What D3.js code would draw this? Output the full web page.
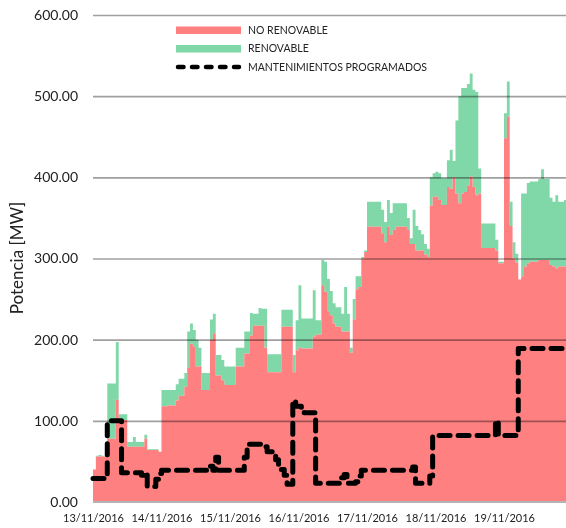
<!DOCTYPE html>
<html>
<head>
<meta charset="utf-8">
<script src="https://cdn.jsdelivr.net/npm/d3@7"></script>
<style>
  body { margin: 0; background: #fff; }
  svg { display: block; }
  svg text { font-family: Lato, "Open Sans", sans-serif; }
</style>
</head>
<body>
<div id="chart"></div>
<script>
// etiquetas de los dias (una por cada 24 h)
var dayLabels = ["13/11/2016", "14/11/2016", "15/11/2016", "16/11/2016", "17/11/2016", "18/11/2016", "19/11/2016"];
var yTicks = [0, 100, 200, 300, 400, 500, 600];
var legendLabels = ["NO RENOVABLE", "RENOVABLE", "MANTENIMIENTOS PROGRAMADOS"];

// potencia horaria [MW], 24 valores por dia
var noRenovable = [
  40,56,56,56,56,78,78,78,126,101,101,101,68,68,68,68,68,68,78,64,64,64,64,62,
  118,118,119,119,119,125,131,131,142,165,195,191,167,167,138,138,138,200,208,156,156,150,144,144,
  144,144,167,167,167,183,183,205,217,217,217,217,190,160,160,160,160,160,216,216,216,216,160,187,
  190,189,189,189,189,204,206,206,267,259,235,230,220,216,216,210,210,210,184,225,262,265,300,308,
  339,339,339,339,339,331,320,339,329,335,339,339,339,339,335,318,318,310,310,310,305,302,365,376,
  376,372,366,366,388,386,400,380,368,380,382,390,401,388,378,380,313,313,313,313,313,310,294,294,
  448,475,340,300,295,274,278,290,294,296,296,296,298,298,298,298,292,290,288,290,290,290,290,290
];
var renovable = [
  0,1,2,1,1,68,68,68,71,7,7,7,6,6,12,6,6,6,5,1,1,1,1,0,
  20,20,19,19,19,20,21,21,17,45,25,21,33,23,21,21,21,25,24,25,25,25,23,23,
  23,23,23,23,23,27,27,28,15,15,22,21,48,22,22,22,22,22,21,21,21,21,21,37,
  77,37,37,37,37,57,18,18,31,37,40,30,25,24,24,22,55,22,6,25,16,13,2,2,
  31,31,31,31,31,29,25,33,27,33,29,29,29,29,15,7,42,30,25,20,13,10,35,29,
  31,33,33,33,33,48,20,90,132,130,128,125,127,120,127,31,30,30,30,30,30,13,2,2,
  31,43,30,20,11,0,102,90,99,99,99,99,100,112,100,100,83,80,90,80,80,82,82,82
];
var mantenimientos = [
  29,29,29,29,29,100,100,100,100,100,36,36,36,36,36,36,36,33,36,19,19,19,28,35,
  39,39,39,39,39,39,39,39,39,39,39,39,39,39,39,39,44,44,39,55,39,39,39,39,
  39,39,39,39,39,55,71,71,71,71,71,71,68,62,62,60,52,45,40,33,22,22,125,118,
  118,115,110,110,110,110,23,23,23,23,23,23,23,23,23,30,34,23,23,23,25,32,39,39,
  39,39,39,39,39,39,39,39,39,39,39,39,39,39,39,39,43,23,23,23,23,23,32,82,
  82,82,82,82,82,82,82,82,82,82,82,82,82,82,82,82,82,82,82,82,82,100,82,82,
  82,82,82,82,82,189,189,189,189,189,189,189,189,189,189,189,189,189,189,189,189,189,189,189,208,208,208,208
];

var W = 566, H = 528;
var mLeft = 93, mTop = 15, mBottom = 502;
var hourW = 68.5 / 24;

var svg = d3.select("#chart").append("svg")
    .attr("width", W)
    .attr("height", H);

var x = d3.scaleLinear().domain([0, 168]).range([mLeft, mLeft + 168 * hourW]);
var y = d3.scaleLinear().domain([0, 600]).range([mBottom, mTop]);

var rows = noRenovable.map(function(v, i) {
  return { h: i, nr: v, tot: v + renovable[i], m: mantenimientos[i] };
});
var last = rows[rows.length - 1];
rows.push({ h: 168, nr: last.nr, tot: last.tot, m: last.m });

var plot = svg.append("g");

// areas apiladas
plot.append("path")
    .datum(rows)
    .attr("fill", "#80D8A8")
    .attr("d", d3.area().curve(d3.curveStepAfter)
        .x(function(d) { return x(d.h); })
        .y0(function(d) { return y(d.nr); })
        .y1(function(d) { return y(d.tot); }));

plot.append("path")
    .datum(rows)
    .attr("fill", "#FF8080")
    .attr("d", d3.area().curve(d3.curveStepAfter)
        .x(function(d) { return x(d.h); })
        .y0(y(0))
        .y1(function(d) { return y(d.nr); }));

// rejilla
var grid = svg.append("g")
    .attr("transform", "translate(" + mLeft + ",0)")
    .call(d3.axisLeft(y).tickValues(yTicks.slice(1)).tickSize(-(W - mLeft)).tickFormat(""));
grid.select(".domain").remove();
grid.selectAll("line")
    .attr("stroke", "#a0a0a0")
    .attr("stroke-width", 1.6)
    .style("mix-blend-mode", "multiply");

svg.append("line")
    .attr("x1", mLeft).attr("x2", W)
    .attr("y1", y(0)).attr("y2", y(0))
    .attr("stroke", "#b4b4b4")
    .attr("stroke-width", 2);

// mantenimientos programados
svg.append("path")
    .datum(rows)
    .attr("fill", "none")
    .attr("stroke", "#000")
    .attr("stroke-width", 5)
    .attr("stroke-linecap", "round")
    .attr("stroke-linejoin", "round")
    .attr("stroke-dasharray", "11,8")
    .attr("d", d3.line().curve(d3.curveStepAfter)
        .x(function(d) { return x(d.h); })
        .y(function(d) { return y(d.m); }));

// ejes
var yAxis = svg.append("g")
    .attr("transform", "translate(" + mLeft + ",0)")
    .call(d3.axisLeft(y).tickValues(yTicks).tickFormat(d3.format(".2f")).tickSize(0).tickPadding(15));
yAxis.select(".domain").remove();
yAxis.selectAll("text")
    .attr("fill", "#222")
    .style("font-size", "14px");

var xAxis = svg.append("g")
    .attr("transform", "translate(0," + mBottom + ")")
    .call(d3.axisBottom(x).tickValues(d3.range(0, 168, 24))
        .tickFormat(function(d, i) { return dayLabels[i]; })
        .tickSize(0).tickPadding(12));
xAxis.select(".domain").remove();
xAxis.selectAll("text")
    .attr("fill", "#222")
    .style("font-size", "11px");

svg.append("text")
    .attr("transform", "translate(23,258) rotate(-90)")
    .attr("text-anchor", "middle")
    .attr("fill", "#222")
    .style("font-size", "17px")
    .text("Potencia [MW]");

// leyenda
var legend = svg.append("g").attr("transform", "translate(176,0)");
legend.append("rect").attr("x", 0).attr("y", 26.5).attr("width", 65).attr("height", 7.5).attr("fill", "#FF8080");
legend.append("rect").attr("x", 0).attr("y", 45).attr("width", 65).attr("height", 7.5).attr("fill", "#80D8A8");
legend.append("line")
    .attr("x1", 2).attr("x2", 63).attr("y1", 67).attr("y2", 67)
    .attr("stroke", "#000").attr("stroke-width", 4.5)
    .attr("stroke-linecap", "round")
    .attr("stroke-dasharray", "5.5,8.5");
legend.selectAll("text.lg")
    .data(legendLabels)
    .enter().append("text")
    .attr("class", "lg")
    .attr("x", 72)
    .attr("y", function(d, i) { return 30 + i * 18.5; })
    .attr("dy", "0.35em")
    .attr("fill", "#222")
    .style("font-size", "10.5px")
    .text(function(d) { return d; });
</script>
</body>
</html>
